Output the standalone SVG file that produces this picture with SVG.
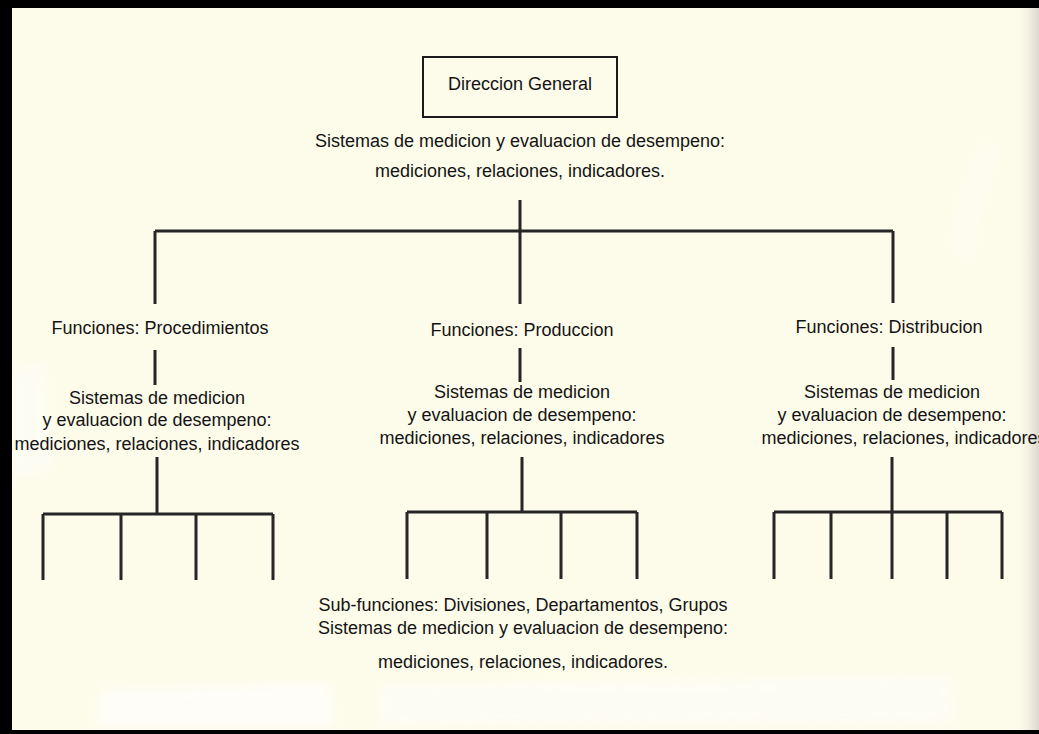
<svg xmlns="http://www.w3.org/2000/svg" width="1039" height="734" viewBox="0 0 1039 734">
  <style>
    .t { font-family: "Liberation Sans", Arial, sans-serif; font-size: 18px; fill: #141414; text-anchor: middle; }
    .ln { stroke: #262626; stroke-width: 3; fill: none; stroke-linecap: butt; }
    .box { fill: none; stroke: #1a1a1a; stroke-width: 2; }
    .fade { fill: #ffffff; filter: url(#soft); }
  </style>
  <defs>
    <linearGradient id="edge" x1="0" y1="0" x2="1" y2="0">
      <stop offset="0" stop-color="#fdfbea" stop-opacity="0"/>
      <stop offset="1" stop-color="#d9d6cc" stop-opacity="1"/>
    </linearGradient>
    <filter id="soft" x="-20%" y="-20%" width="140%" height="140%">
      <feGaussianBlur stdDeviation="5"/>
    </filter>
  </defs>

  <!-- paper -->
  <rect x="0" y="0" width="1039" height="734" fill="#fdfbea"/>
  <!-- faded patches on the paper -->
  <path class="fade" d="M100 690 L330 684 L335 727 L98 727 Z" opacity="0.7"/>
  <path class="fade" d="M380 686 L560 682 L950 676 L955 722 L380 725 Z" opacity="0.45"/>
  <path class="fade" d="M14 370 L45 362 L50 470 L14 478 Z" opacity="0.45"/>
  <path class="fade" d="M950 250 Q960 180 985 140 L1000 150 Q980 200 972 262 Z" opacity="0.25"/>
  <rect x="1015" y="0" width="24" height="734" fill="url(#edge)"/>

  <!-- frame -->
  <rect x="0" y="0" width="1039" height="8" fill="#000"/>
  <rect x="0" y="0" width="12" height="734" fill="#000"/>
  <rect x="0" y="730" width="1039" height="4" fill="#000"/>

  <!-- connectors -->
  <g id="connectors" class="ln">
    <!-- top level -->
    <path d="M520 200 V231 M155 231 H893 M155 231 V304 M520 231 V304 M893 231 V303"/>
    <!-- function to measurement -->
    <path d="M155 350 V385 M520 348 V382 M893 347 V380"/>
    <!-- left sub-tree -->
    <path d="M157 457 V514 M43 514 H273 M43 514 V580 M121 514 V580 M196 514 V580 M273 514 V580"/>
    <!-- middle sub-tree -->
    <path d="M522 457 V512 M407 512 H637 M407 512 V579 M487 512 V579 M561 512 V579 M637 512 V579"/>
    <!-- right sub-tree -->
    <path d="M892 457 V512 M774 512 H1002 M774 512 V579 M831 512 V579 M892 512 V579 M947 512 V579 M1002 512 V579"/>
  </g>

  <g id="direccion-general">
    <rect class="box" x="423" y="57" width="194" height="60"/>
    <text class="t" x="520" y="90">Direccion General</text>
    <text class="t" x="520" y="147">Sistemas de medicion y evaluacion de desempeno:</text>
    <text class="t" x="520" y="177">mediciones, relaciones, indicadores.</text>
  </g>

  <g id="procedimientos">
    <text class="t" x="160" y="334">Funciones: Procedimientos</text>
    <text class="t" x="157" y="404">Sistemas de medicion</text>
    <text class="t" x="157" y="426">y evaluacion de desempeno:</text>
    <text class="t" x="157" y="450">mediciones, relaciones, indicadores</text>
  </g>

  <g id="produccion">
    <text class="t" x="522" y="336">Funciones: Produccion</text>
    <text class="t" x="522" y="398">Sistemas de medicion</text>
    <text class="t" x="522" y="421">y evaluacion de desempeno:</text>
    <text class="t" x="522" y="444">mediciones, relaciones, indicadores</text>
  </g>

  <g id="distribucion">
    <text class="t" x="889" y="333">Funciones: Distribucion</text>
    <text class="t" x="892" y="398">Sistemas de medicion</text>
    <text class="t" x="892" y="421">y evaluacion de desempeno:</text>
    <text class="t" x="904" y="444">mediciones, relaciones, indicadores</text>
  </g>

  <g id="sub-funciones">
    <text class="t" x="523" y="611">Sub-funciones: Divisiones, Departamentos, Grupos</text>
    <text class="t" x="523" y="634">Sistemas de medicion y evaluacion de desempeno:</text>
    <text class="t" x="523" y="668">mediciones, relaciones, indicadores.</text>
  </g>
</svg>
